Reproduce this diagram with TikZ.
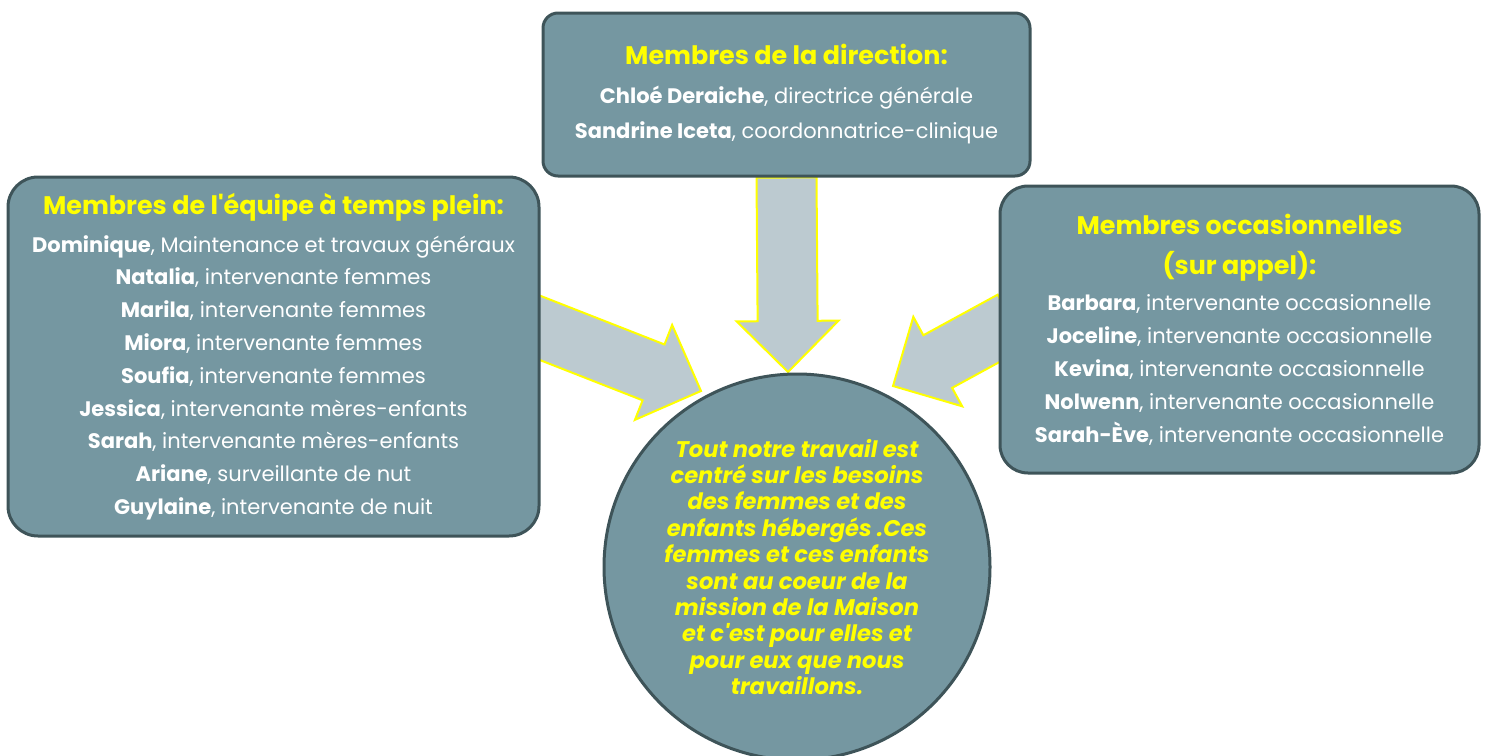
\documentclass[tikz,border=0pt]{standalone}
\usepackage{fontspec}
\setmainfont{Poppins}[Ligatures=TeXOff]
\usepackage{tikz}
\usetikzlibrary{calc, backgrounds, positioning}
\definecolor{boxfill}{HTML}{7597A1}
\definecolor{boxline}{HTML}{3E5459}
\definecolor{arrowfill}{HTML}{BCCAD0}
\definecolor{headyellow}{HTML}{FFFF00}
\newcommand{\head}[1]{{\fontsize{12.7}{16}\selectfont\color{headyellow}\bfseries #1}}
\newcommand{\blockarrow}[2]{%
  \coordinate (hb) at ($(#2)!25.5pt!(#1)$);
  \draw[flow] ($(#1)!15pt!90:(#2)$) -- ($(hb)!15pt!90:(#2)$) -- ($(hb)!25.5pt!90:(#2)$)
    -- (#2) -- ($(hb)!25.5pt!-90:(#2)$) -- ($(hb)!15pt!-90:(#2)$) -- ($(#1)!15pt!-90:(#2)$) -- cycle;}

\begin{document}
\begin{tikzpicture}[x=0.5pt, y=-0.5pt,
    panel/.style={draw=boxline, line width=1.5pt, fill=boxfill, rounded corners=15pt, align=center,
      text=white, inner sep=0pt, font=\fontsize{10.5}{16.4}\selectfont},
    hub/.style={draw=boxline, line width=1.5pt, fill=boxfill, circle, inner sep=0pt, align=center,
      text=headyellow, minimum size=193pt, font=\fontsize{11.3}{13.2}\selectfont\bfseries\itshape},
    flow/.style={draw=headyellow, fill=arrowfill, line width=1pt, line join=miter}]
  \useasboundingbox (0,0) rectangle (1486,755);
  \node[panel, rounded corners=7.5pt, minimum width=243.5pt, minimum height=81.5pt,
    font=\fontsize{10.5}{17.5}\selectfont] (direction) at (786.5,94.5)
    {\head{Membres de la direction:}\\[2pt]
     \textbf{Chloé Deraiche}, directrice générale\\
     \textbf{Sandrine Iceta}, coordonnatrice-clinique};
  \node[panel, minimum width=265.5pt, minimum height=179.5pt] (equipe) at (273.5,356.5)
    {\head{Membres de l'équipe à temps plein:}\\[2.5pt]
     \textbf{Dominique}, Maintenance et travaux généraux\\
     \textbf{Natalia}, intervenante femmes\\
     \textbf{Marila}, intervenante femmes\\
     \textbf{Miora}, intervenante femmes\\
     \textbf{Soufia}, intervenante femmes\\
     \textbf{Jessica}, intervenante mères-enfants\\
     \textbf{Sarah}, intervenante mères-enfants\\
     \textbf{Ariane}, surveillante de nut\\
     \textbf{Guylaine}, intervenante de nuit};
  \node[panel, rounded corners=14pt, minimum width=239.5pt, minimum height=143.5pt] (occasion) at (1239.5,329.5)
    {\head{Membres occasionnelles}\\[3.5pt]
     \head{(sur appel):}\\[2pt]
     \textbf{Barbara}, intervenante occasionnelle\\
     \textbf{Joceline}, intervenante occasionnelle\\
     \textbf{Kevina}, intervenante occasionnelle\\
     \textbf{Nolwenn}, intervenante occasionnelle\\
     \textbf{Sarah-Ève}, intervenante occasionnelle};
  \node[hub] (mission) at (797,567)
    {Tout notre travail est\\ centré sur les besoins\\ des femmes et des\\ enfants hébergés .Ces\\
     femmes et ces enfants\\ sont au coeur de la\\ mission de la Maison\\ et c'est pour elles et\\
     pour eux que nous\\ travaillons.};
  \coordinate (dtail) at (direction.south);
  \coordinate (dtip) at (788,372);
  \coordinate (etail) at (525,322);
  \coordinate (etip) at (701,391);
  \coordinate (otail) at (1012,321);
  \coordinate (otip) at (893,386);
  \begin{scope}[on background layer]
    \foreach \from/\to in {dtail/dtip,etail/etip,otail/otip} \blockarrow{\from}{\to};
  \end{scope}
\end{tikzpicture}
\end{document}
